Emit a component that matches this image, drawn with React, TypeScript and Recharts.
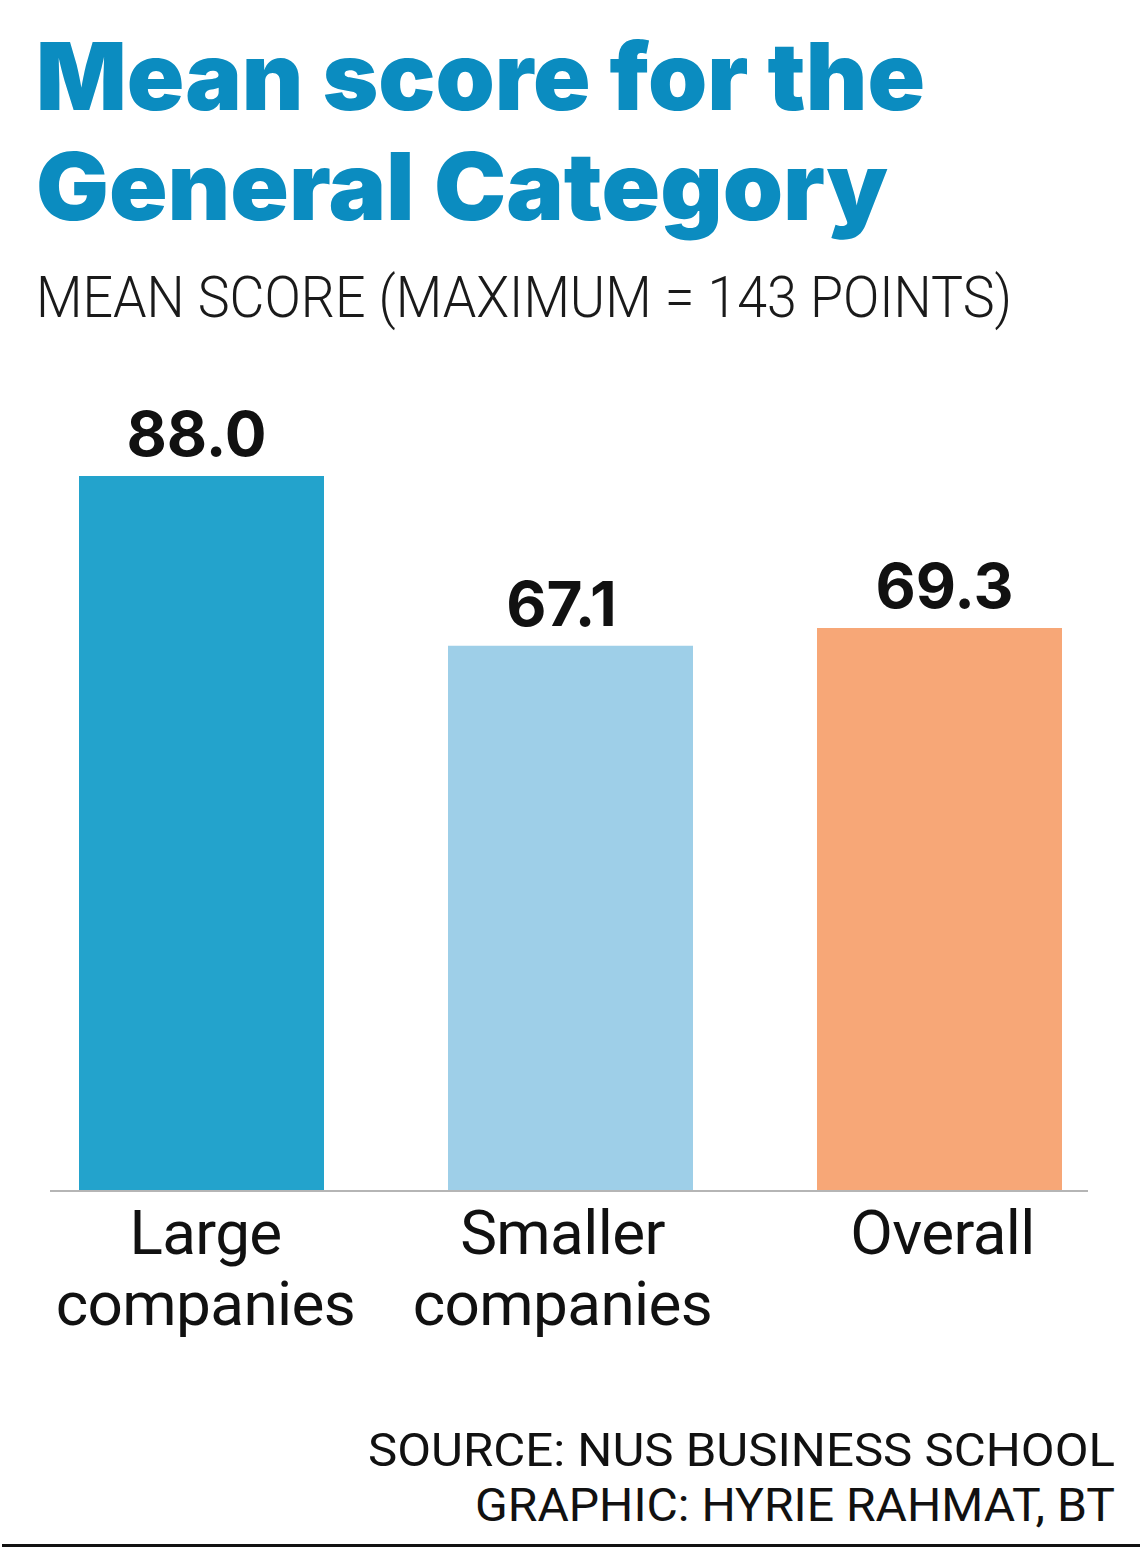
import React from "react";
import { BarChart, Bar, XAxis, YAxis, Cell, LabelList } from "recharts";

const categories = ["Large companies", "Smaller companies", "Overall"];
const meanScores = [88.0, 67.1, 69.3];
const tickLines = [["Large", "companies"], ["Smaller", "companies"], ["Overall"]];
const barColors = ["#23a3cc", "#9ecfe8", "#f7a777"];

const titleLines = ["Mean score for the", "General Category"];
const subtitle = "MEAN SCORE (MAXIMUM = 143 POINTS)";
const sourceLines = ["SOURCE: NUS BUSINESS SCHOOL", "GRAPHIC: HYRIE RAHMAT, BT"];

// small horizontal nudges (style only) matching the reference's label placement
const tickNudge = [4, -8, 3];
const valueNudge = [-5, -9, 5];

const data = categories.map((name, i) => ({ name, value: meanScores[i] }));

const CustomTick = (props: any) => {
  const { x, y, index } = props;
  const lines = tickLines[index] || [];
  const cx = x + (tickNudge[index] || 0);
  return (
    <text
      x={cx}
      y={y}
      textAnchor="middle"
      fill="#111"
      style={{ fontFamily: "Roboto", fontSize: 62, fontWeight: 400, letterSpacing: -0.6 }}
    >
      {lines.map((l, i) => (
        <tspan key={i} x={cx} dy={i === 0 ? 55 : 71}>
          {l}
        </tspan>
      ))}
    </text>
  );
};

const ValueLabel = (props: any) => {
  const { x, y, width, value, index } = props;
  const cx = x + width / 2 + (valueNudge[index] || 0);
  return (
    <text
      x={cx}
      y={y - 20}
      textAnchor="middle"
      fill="#111"
      style={{ fontFamily: "Inter", fontSize: 62, fontWeight: 700 }}
    >
      {Number(value).toFixed(1)}
    </text>
  );
};

export default function App() {
  return (
    <div
      style={{
        position: "absolute",
        left: 0,
        top: 0,
        width: 1140,
        height: 1566,
        background: "#fff",
        overflow: "hidden",
      }}
    >
      <svg width={1140} height={1566} style={{ position: "absolute", left: 0, top: 0 }}>
        <text
          x={36}
          y={110}
          fill="#0b8cc0"
          textLength={889}
          lengthAdjust="spacingAndGlyphs"
          style={{ fontFamily: "Inter", fontSize: 94, fontWeight: 900 }}
        >
          {titleLines[0]}
        </text>
        <text
          x={36}
          y={220}
          fill="#0b8cc0"
          textLength={852}
          lengthAdjust="spacingAndGlyphs"
          style={{ fontFamily: "Inter", fontSize: 94, fontWeight: 900 }}
        >
          {titleLines[1]}
        </text>
        <text
          x={36}
          y={317}
          fill="#1a1a1a"
          textLength={976}
          lengthAdjust="spacingAndGlyphs"
          style={{ fontFamily: "Roboto", fontSize: 57, fontWeight: 300 }}
        >
          {subtitle}
        </text>
        <text
          x={1115}
          y={1466}
          fill="#111"
          textAnchor="end"
          textLength={747}
          lengthAdjust="spacingAndGlyphs"
          style={{ fontFamily: "Roboto", fontSize: 47, fontWeight: 400 }}
        >
          {sourceLines[0]}
        </text>
        <text
          x={1115}
          y={1521}
          fill="#111"
          textAnchor="end"
          textLength={640}
          lengthAdjust="spacingAndGlyphs"
          style={{ fontFamily: "Roboto", fontSize: 47, fontWeight: 400 }}
        >
          {sourceLines[1]}
        </text>
        <rect x={2} y={1544} width={1138} height={3} fill="#111" />
      </svg>
      <div style={{ position: "absolute", left: 0, top: 360 }}>
        <BarChart
          width={1140}
          height={1000}
          data={data}
          margin={{ top: 18.5, right: 52, bottom: 0, left: 50 }}
        >
          <XAxis
            dataKey="name"
            height={169}
            tickLine={false}
            axisLine={{ stroke: "#b5b5b5", strokeWidth: 2 }}
            padding={{ left: -33, right: -36 }}
            interval={0}
            tick={<CustomTick />}
          />
          <YAxis hide domain={[0, 100]} />
          <Bar dataKey="value" barSize={245} isAnimationActive={false}>
            {data.map((d, i) => (
              <Cell key={d.name} fill={barColors[i]} />
            ))}
            <LabelList dataKey="value" content={<ValueLabel />} />
          </Bar>
        </BarChart>
      </div>
    </div>
  );
}
